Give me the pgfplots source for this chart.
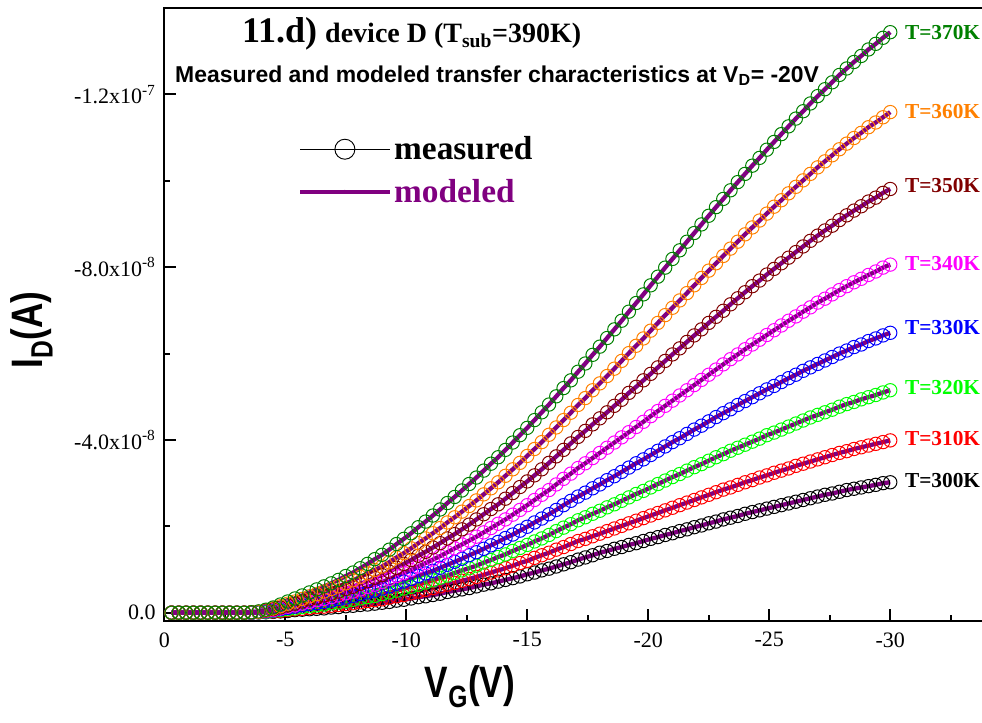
\documentclass[border=0pt]{standalone}
\usepackage{pgfplots}
\pgfplotsset{compat=1.18}
\usepackage{pgfplotstable}
\usepackage{graphicx}
\usepackage{fontspec}
\setmainfont{Liberation Serif}
\newfontfamily\arialf{Liberation Sans}
\definecolor{cT300}{RGB}{0,0,0}
\definecolor{cT310}{RGB}{255,0,0}
\definecolor{cT320}{RGB}{0,255,0}
\definecolor{cT330}{RGB}{0,0,255}
\definecolor{cT340}{RGB}{255,0,255}
\definecolor{cT350}{RGB}{128,0,0}
\definecolor{cT360}{RGB}{255,128,0}
\definecolor{cT370}{RGB}{0,128,0}
\definecolor{modpurple}{RGB}{128,0,128}

\pgfplotstableread{
v t370 t360 t350 t340 t330 t320 t310 t300
-0.3 0 0 0 0 0 0 0 0
-0.6 0 0 0 0 0 0 0 0
-0.9 0 0 0 0 0 0 0 0
-1.2 0 0 0 0 0 0 0 0
-1.5 0 0 0 0 0 0 0 0
-1.8 0 0 0 0 0 0 0 0
-2.1 0 0 0 0 0 0 0 0
-2.4 0 0 0 0 0 0 0 0
-2.7 0 0 0 0 0 0 0 0
-3.0 0 0 0 0 0 0 0 0
-3.3 0 0 0 0 0 0 0 0
-3.6 -0.01e-8 -0.01e-8 -0.01e-8 -0.01e-8 0 0 0 0
-3.9 -0.03e-8 -0.02e-8 -0.02e-8 -0.02e-8 -0.01e-8 -0.01e-8 -0.01e-8 -0.01e-8
-4.2 -0.07e-8 -0.06e-8 -0.05e-8 -0.04e-8 -0.03e-8 -0.02e-8 -0.02e-8 -0.01e-8
-4.5 -0.12e-8 -0.10e-8 -0.08e-8 -0.06e-8 -0.05e-8 -0.04e-8 -0.03e-8 -0.02e-8
-4.8 -0.19e-8 -0.15e-8 -0.12e-8 -0.10e-8 -0.08e-8 -0.06e-8 -0.04e-8 -0.03e-8
-5.1 -0.26e-8 -0.21e-8 -0.17e-8 -0.14e-8 -0.11e-8 -0.08e-8 -0.06e-8 -0.04e-8
-5.4 -0.33e-8 -0.26e-8 -0.21e-8 -0.17e-8 -0.14e-8 -0.10e-8 -0.08e-8 -0.06e-8
-5.7 -0.40e-8 -0.32e-8 -0.26e-8 -0.21e-8 -0.17e-8 -0.13e-8 -0.09e-8 -0.07e-8
-6.0 -0.47e-8 -0.38e-8 -0.31e-8 -0.25e-8 -0.20e-8 -0.15e-8 -0.11e-8 -0.08e-8
-6.3 -0.54e-8 -0.43e-8 -0.35e-8 -0.29e-8 -0.22e-8 -0.17e-8 -0.13e-8 -0.09e-8
-6.6 -0.61e-8 -0.49e-8 -0.40e-8 -0.32e-8 -0.25e-8 -0.19e-8 -0.14e-8 -0.10e-8
-6.9 -0.68e-8 -0.55e-8 -0.44e-8 -0.36e-8 -0.28e-8 -0.22e-8 -0.16e-8 -0.12e-8
-7.2 -0.76e-8 -0.61e-8 -0.49e-8 -0.40e-8 -0.32e-8 -0.24e-8 -0.18e-8 -0.13e-8
-7.5 -0.85e-8 -0.68e-8 -0.55e-8 -0.45e-8 -0.35e-8 -0.27e-8 -0.20e-8 -0.15e-8
-7.8 -0.93e-8 -0.75e-8 -0.60e-8 -0.49e-8 -0.39e-8 -0.30e-8 -0.22e-8 -0.16e-8
-8.1 -1.03e-8 -0.83e-8 -0.67e-8 -0.54e-8 -0.43e-8 -0.33e-8 -0.24e-8 -0.18e-8
-8.4 -1.13e-8 -0.91e-8 -0.73e-8 -0.60e-8 -0.47e-8 -0.36e-8 -0.27e-8 -0.19e-8
-8.7 -1.24e-8 -0.99e-8 -0.81e-8 -0.65e-8 -0.51e-8 -0.39e-8 -0.29e-8 -0.21e-8
-9.0 -1.34e-8 -1.07e-8 -0.87e-8 -0.71e-8 -0.56e-8 -0.43e-8 -0.31e-8 -0.23e-8
-9.3 -1.46e-8 -1.17e-8 -0.95e-8 -0.78e-8 -0.61e-8 -0.47e-8 -0.35e-8 -0.25e-8
-9.6 -1.59e-8 -1.28e-8 -1.04e-8 -0.85e-8 -0.67e-8 -0.51e-8 -0.38e-8 -0.28e-8
-9.9 -1.71e-8 -1.38e-8 -1.13e-8 -0.92e-8 -0.72e-8 -0.56e-8 -0.41e-8 -0.30e-8
-10.2 -1.84e-8 -1.49e-8 -1.22e-8 -0.99e-8 -0.78e-8 -0.60e-8 -0.45e-8 -0.33e-8
-10.5 -1.98e-8 -1.61e-8 -1.32e-8 -1.07e-8 -0.85e-8 -0.65e-8 -0.49e-8 -0.36e-8
-10.8 -2.11e-8 -1.72e-8 -1.41e-8 -1.15e-8 -0.91e-8 -0.70e-8 -0.53e-8 -0.38e-8
-11.1 -2.25e-8 -1.84e-8 -1.51e-8 -1.23e-8 -0.97e-8 -0.75e-8 -0.57e-8 -0.41e-8
-11.4 -2.39e-8 -1.96e-8 -1.61e-8 -1.31e-8 -1.04e-8 -0.81e-8 -0.61e-8 -0.44e-8
-11.7 -2.54e-8 -2.09e-8 -1.72e-8 -1.40e-8 -1.11e-8 -0.86e-8 -0.65e-8 -0.48e-8
-12.0 -2.68e-8 -2.21e-8 -1.82e-8 -1.49e-8 -1.18e-8 -0.92e-8 -0.69e-8 -0.51e-8
-12.3 -2.83e-8 -2.34e-8 -1.93e-8 -1.58e-8 -1.25e-8 -0.98e-8 -0.74e-8 -0.54e-8
-12.6 -2.98e-8 -2.47e-8 -2.04e-8 -1.67e-8 -1.33e-8 -1.03e-8 -0.78e-8 -0.57e-8
-12.9 -3.13e-8 -2.60e-8 -2.16e-8 -1.76e-8 -1.40e-8 -1.09e-8 -0.83e-8 -0.61e-8
-13.2 -3.29e-8 -2.74e-8 -2.28e-8 -1.86e-8 -1.48e-8 -1.16e-8 -0.88e-8 -0.65e-8
-13.5 -3.45e-8 -2.88e-8 -2.40e-8 -1.96e-8 -1.56e-8 -1.22e-8 -0.93e-8 -0.68e-8
-13.8 -3.60e-8 -3.02e-8 -2.51e-8 -2.06e-8 -1.64e-8 -1.29e-8 -0.98e-8 -0.72e-8
-14.1 -3.77e-8 -3.17e-8 -2.64e-8 -2.16e-8 -1.73e-8 -1.35e-8 -1.03e-8 -0.76e-8
-14.4 -3.94e-8 -3.32e-8 -2.77e-8 -2.27e-8 -1.81e-8 -1.43e-8 -1.09e-8 -0.80e-8
-14.7 -4.11e-8 -3.47e-8 -2.91e-8 -2.38e-8 -1.90e-8 -1.50e-8 -1.15e-8 -0.84e-8
-15.0 -4.28e-8 -3.63e-8 -3.04e-8 -2.49e-8 -1.99e-8 -1.57e-8 -1.20e-8 -0.89e-8
-15.3 -4.46e-8 -3.79e-8 -3.18e-8 -2.61e-8 -2.09e-8 -1.65e-8 -1.27e-8 -0.93e-8
-15.6 -4.64e-8 -3.95e-8 -3.32e-8 -2.73e-8 -2.18e-8 -1.72e-8 -1.33e-8 -0.98e-8
-15.9 -4.82e-8 -4.12e-8 -3.47e-8 -2.84e-8 -2.28e-8 -1.80e-8 -1.39e-8 -1.02e-8
-16.2 -5.01e-8 -4.29e-8 -3.62e-8 -2.97e-8 -2.38e-8 -1.89e-8 -1.46e-8 -1.07e-8
-16.5 -5.20e-8 -4.46e-8 -3.77e-8 -3.10e-8 -2.49e-8 -1.97e-8 -1.52e-8 -1.12e-8
-16.8 -5.38e-8 -4.63e-8 -3.92e-8 -3.22e-8 -2.59e-8 -2.05e-8 -1.59e-8 -1.17e-8
-17.1 -5.58e-8 -4.81e-8 -4.07e-8 -3.35e-8 -2.69e-8 -2.14e-8 -1.66e-8 -1.23e-8
-17.4 -5.77e-8 -4.97e-8 -4.21e-8 -3.46e-8 -2.78e-8 -2.21e-8 -1.71e-8 -1.28e-8
-17.7 -5.97e-8 -5.15e-8 -4.36e-8 -3.58e-8 -2.88e-8 -2.29e-8 -1.77e-8 -1.33e-8
-18.0 -6.16e-8 -5.31e-8 -4.50e-8 -3.70e-8 -2.97e-8 -2.36e-8 -1.83e-8 -1.39e-8
-18.3 -6.36e-8 -5.48e-8 -4.64e-8 -3.82e-8 -3.07e-8 -2.44e-8 -1.89e-8 -1.43e-8
-18.6 -6.56e-8 -5.65e-8 -4.79e-8 -3.94e-8 -3.16e-8 -2.51e-8 -1.95e-8 -1.48e-8
-18.9 -6.76e-8 -5.83e-8 -4.93e-8 -4.06e-8 -3.26e-8 -2.59e-8 -2.01e-8 -1.52e-8
-19.2 -6.97e-8 -6.01e-8 -5.09e-8 -4.18e-8 -3.36e-8 -2.67e-8 -2.07e-8 -1.57e-8
-19.5 -7.17e-8 -6.18e-8 -5.23e-8 -4.30e-8 -3.46e-8 -2.75e-8 -2.13e-8 -1.61e-8
-19.8 -7.37e-8 -6.35e-8 -5.38e-8 -4.42e-8 -3.55e-8 -2.82e-8 -2.19e-8 -1.66e-8
-20.1 -7.58e-8 -6.53e-8 -5.53e-8 -4.55e-8 -3.65e-8 -2.90e-8 -2.25e-8 -1.71e-8
-20.4 -7.78e-8 -6.71e-8 -5.68e-8 -4.67e-8 -3.75e-8 -2.98e-8 -2.31e-8 -1.75e-8
-20.7 -7.99e-8 -6.89e-8 -5.83e-8 -4.79e-8 -3.85e-8 -3.06e-8 -2.37e-8 -1.80e-8
-21.0 -8.19e-8 -7.06e-8 -5.98e-8 -4.91e-8 -3.95e-8 -3.14e-8 -2.43e-8 -1.84e-8
-21.3 -8.39e-8 -7.23e-8 -6.12e-8 -5.03e-8 -4.04e-8 -3.21e-8 -2.49e-8 -1.89e-8
-21.6 -8.59e-8 -7.40e-8 -6.27e-8 -5.15e-8 -4.14e-8 -3.29e-8 -2.55e-8 -1.93e-8
-21.9 -8.79e-8 -7.58e-8 -6.42e-8 -5.27e-8 -4.24e-8 -3.37e-8 -2.61e-8 -1.98e-8
-22.2 -8.99e-8 -7.75e-8 -6.56e-8 -5.39e-8 -4.33e-8 -3.44e-8 -2.67e-8 -2.02e-8
-22.5 -9.19e-8 -7.92e-8 -6.71e-8 -5.51e-8 -4.43e-8 -3.52e-8 -2.73e-8 -2.07e-8
-22.8 -9.39e-8 -8.09e-8 -6.85e-8 -5.63e-8 -4.53e-8 -3.60e-8 -2.79e-8 -2.11e-8
-23.1 -9.58e-8 -8.26e-8 -6.99e-8 -5.75e-8 -4.62e-8 -3.67e-8 -2.85e-8 -2.16e-8
-23.4 -9.78e-8 -8.43e-8 -7.14e-8 -5.87e-8 -4.71e-8 -3.75e-8 -2.90e-8 -2.20e-8
-23.7 -9.97e-8 -8.59e-8 -7.28e-8 -5.98e-8 -4.81e-8 -3.82e-8 -2.96e-8 -2.24e-8
-24.0 -10.16e-8 -8.76e-8 -7.42e-8 -6.10e-8 -4.90e-8 -3.89e-8 -3.02e-8 -2.29e-8
-24.3 -10.35e-8 -8.92e-8 -7.56e-8 -6.21e-8 -4.99e-8 -3.96e-8 -3.07e-8 -2.33e-8
-24.6 -10.53e-8 -9.08e-8 -7.69e-8 -6.32e-8 -5.08e-8 -4.03e-8 -3.13e-8 -2.37e-8
-24.9 -10.72e-8 -9.24e-8 -7.83e-8 -6.43e-8 -5.17e-8 -4.11e-8 -3.18e-8 -2.41e-8
-25.2 -10.90e-8 -9.40e-8 -7.96e-8 -6.54e-8 -5.25e-8 -4.17e-8 -3.24e-8 -2.45e-8
-25.5 -11.08e-8 -9.55e-8 -8.09e-8 -6.65e-8 -5.34e-8 -4.24e-8 -3.29e-8 -2.49e-8
-25.8 -11.26e-8 -9.71e-8 -8.22e-8 -6.76e-8 -5.43e-8 -4.31e-8 -3.34e-8 -2.53e-8
-26.1 -11.44e-8 -9.86e-8 -8.35e-8 -6.86e-8 -5.51e-8 -4.38e-8 -3.40e-8 -2.57e-8
-26.4 -11.61e-8 -10.01e-8 -8.48e-8 -6.97e-8 -5.60e-8 -4.45e-8 -3.45e-8 -2.61e-8
-26.7 -11.79e-8 -10.16e-8 -8.61e-8 -7.07e-8 -5.68e-8 -4.52e-8 -3.50e-8 -2.65e-8
-27.0 -11.96e-8 -10.31e-8 -8.73e-8 -7.18e-8 -5.76e-8 -4.58e-8 -3.55e-8 -2.69e-8
-27.3 -12.12e-8 -10.45e-8 -8.85e-8 -7.27e-8 -5.84e-8 -4.64e-8 -3.60e-8 -2.73e-8
-27.6 -12.28e-8 -10.59e-8 -8.96e-8 -7.37e-8 -5.92e-8 -4.70e-8 -3.65e-8 -2.76e-8
-27.9 -12.45e-8 -10.73e-8 -9.09e-8 -7.47e-8 -6.00e-8 -4.77e-8 -3.70e-8 -2.80e-8
-28.2 -12.60e-8 -10.86e-8 -9.20e-8 -7.56e-8 -6.07e-8 -4.83e-8 -3.74e-8 -2.84e-8
-28.5 -12.75e-8 -10.99e-8 -9.31e-8 -7.65e-8 -6.15e-8 -4.88e-8 -3.79e-8 -2.87e-8
-28.8 -12.89e-8 -11.11e-8 -9.41e-8 -7.73e-8 -6.21e-8 -4.94e-8 -3.83e-8 -2.90e-8
-29.1 -13.04e-8 -11.24e-8 -9.52e-8 -7.82e-8 -6.29e-8 -4.99e-8 -3.87e-8 -2.93e-8
-29.4 -13.17e-8 -11.35e-8 -9.61e-8 -7.90e-8 -6.35e-8 -5.04e-8 -3.91e-8 -2.96e-8
-29.7 -13.31e-8 -11.47e-8 -9.72e-8 -7.99e-8 -6.42e-8 -5.10e-8 -3.95e-8 -3.00e-8
-30.0 -13.44e-8 -11.59e-8 -9.81e-8 -8.06e-8 -6.48e-8 -5.15e-8 -3.99e-8 -3.02e-8
}\ivdata

\begin{document}
\begin{tikzpicture}
\begin{axis}[
  scale only axis,
  width=617.1pt, height=459.75pt,
  xmin=-34, xmax=0, ymin=-14e-8, ymax=0.192e-8,
  x dir=reverse, y dir=reverse,
  xtick={0,-5,-10,-15,-20,-25,-30},
  xticklabels={0,-5,-10,-15,-20,-25,-30},
  minor xtick={-2.5,-7.5,-12.5,-17.5,-22.5,-27.5,-32.5},
  ytick={0,-4e-8,-8e-8,-12e-8},
  yticklabels={0.0,{-4.0x10\textsuperscript{-8}},{-8.0x10\textsuperscript{-8}},{-1.2x10\textsuperscript{-7}}},
  minor ytick={-2e-8,-6e-8,-10e-8},
  scaled x ticks=false, scaled y ticks=false,
  xtick pos=bottom, ytick pos=left, tick align=inside,
  major tick length=9pt, minor tick length=4.5pt,
  tick style={black, line width=1.5pt},
  axis line style={line width=1.5pt},
  tick label style={font=\fontsize{16.5}{18}\selectfont},
  xticklabel style={yshift=-5pt},
  yticklabel style={xshift=-3pt},
  xlabel={\arialf\bfseries\fontsize{33}{33}\selectfont\scalebox{0.8}[1]{V\textsubscript{G}(V)}},
  ylabel={\arialf\bfseries\fontsize{33}{33}\selectfont\scalebox{0.8}[1]{I\textsubscript{D}(A)}},
  xlabel style={at={(axis description cs:0.3715,-0.124)}, anchor=base, inner sep=0pt},
  ylabel style={at={(axis description cs:-0.1474,0.475)}, anchor=base, inner sep=0pt},
  legend image code/.code={
    \draw[#1, mark=none] (0pt,0pt) -- (67pt,0pt);
    \draw[#1, line width=0.7pt] plot coordinates {(33.5pt,0pt)};
  },
  legend style={draw=none, fill=none, at={(axis description cs:0.1625,0.735)}, anchor=west,
    font=\fontsize{25}{25}\selectfont\bfseries, row sep=9pt, column sep=0pt, inner sep=0pt},
  legend cell align=left,
]
\coordinate (BL) at (axis description cs:0,0);
% measured
\addplot[forget plot, only marks, mark=o, mark size=5pt, cT300, mark options={line width=0.75pt}] table[x=v,y=t300]{\ivdata};
\addplot[forget plot, only marks, mark=o, mark size=5pt, cT310, mark options={line width=0.75pt}] table[x=v,y=t310]{\ivdata};
\addplot[forget plot, only marks, mark=o, mark size=5pt, cT320, mark options={line width=0.75pt}] table[x=v,y=t320]{\ivdata};
\addplot[forget plot, only marks, mark=o, mark size=5pt, cT330, mark options={line width=0.75pt}] table[x=v,y=t330]{\ivdata};
\addplot[forget plot, only marks, mark=o, mark size=5pt, cT340, mark options={line width=0.75pt}] table[x=v,y=t340]{\ivdata};
\addplot[forget plot, only marks, mark=o, mark size=5pt, cT350, mark options={line width=0.75pt}] table[x=v,y=t350]{\ivdata};
\addplot[forget plot, only marks, mark=o, mark size=5pt, cT360, mark options={line width=0.75pt}] table[x=v,y=t360]{\ivdata};
\addplot[forget plot, only marks, mark=o, mark size=5pt, cT370, mark options={line width=0.75pt}] table[x=v,y=t370]{\ivdata};
% modeled
\addplot[forget plot, no marks, modpurple, line width=3.2pt] table[x=v,y=t300]{\ivdata};
\addplot[forget plot, no marks, modpurple, line width=3.2pt] table[x=v,y=t310]{\ivdata};
\addplot[forget plot, no marks, modpurple, line width=3.2pt] table[x=v,y=t320]{\ivdata};
\addplot[forget plot, no marks, modpurple, line width=3.2pt] table[x=v,y=t330]{\ivdata};
\addplot[forget plot, no marks, modpurple, line width=3.2pt] table[x=v,y=t340]{\ivdata};
\addplot[forget plot, no marks, modpurple, line width=3.2pt] table[x=v,y=t350]{\ivdata};
\addplot[forget plot, no marks, modpurple, line width=3.2pt] table[x=v,y=t360]{\ivdata};
\addplot[forget plot, no marks, modpurple, line width=3.2pt] table[x=v,y=t370]{\ivdata};
% legend
\addlegendimage{black, line width=0.6pt, mark=o, mark size=7.5pt, mark options={fill=white}}
\addlegendentry{\textcolor{black}{measured}}
\addlegendimage{modpurple, line width=3pt, mark=*, mark size=1pt}
\addlegendentry{\textcolor{modpurple}{modeled}}
% curve labels
\begin{scope}[every node/.style={anchor=west, inner sep=0pt, font=\fontsize{16}{16}\selectfont\bfseries}]
\node[text=cT370] at (axis cs:-30.6,-13.44e-8) {T=370K};
\node[text=cT360] at (axis cs:-30.6,-11.61e-8) {T=360K};
\node[text=cT350] at (axis cs:-30.6,-9.90e-8) {T=350K};
\node[text=cT340] at (axis cs:-30.6,-8.09e-8) {T=340K};
\node[text=cT330] at (axis cs:-30.6,-6.61e-8) {T=330K};
\node[text=cT320] at (axis cs:-30.6,-5.22e-8) {T=320K};
\node[text=cT310] at (axis cs:-30.6,-4.04e-8) {T=310K};
\node[text=cT300] at (axis cs:-30.6,-3.07e-8) {T=300K};
\end{scope}
% titles
\node[anchor=base west, inner sep=0pt] at (axis description cs:0.0944,0.943)
  {{\fontsize{27}{27}\selectfont\bfseries 11.d)}\hspace{6pt}{\fontsize{21}{21}\selectfont\bfseries device D (T\textsubscript{sub}=390K)}};
\node[anchor=base west, inner sep=0pt] at (axis description cs:0.013,0.879)
  {\arialf\bfseries\fontsize{17.2}{17.2}\selectfont Measured and modeled transfer characteristics at V\textsubscript{D}= -20V};
\end{axis}
\pgfresetboundingbox
\path[use as bounding box] (BL) ++(-123.2pt,-75.75pt) rectangle ++(736.5pt,541.5pt);
\end{tikzpicture}
\end{document}
